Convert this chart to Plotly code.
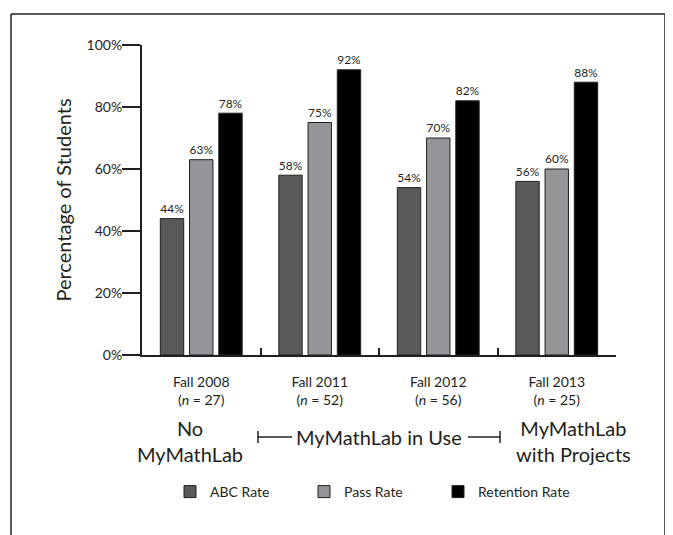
import plotly.graph_objects as go

categories = ["Fall 2008<br>(<i>n</i> = 27)", "Fall 2011<br>(<i>n</i> = 52)",
              "Fall 2012<br>(<i>n</i> = 56)", "Fall 2013<br>(<i>n</i> = 25)"]
abc_rate = [44, 58, 54, 56]
pass_rate = [63, 75, 70, 60]
retention_rate = [78, 92, 82, 88]
series_names = ["ABC Rate", "Pass Rate", "Retention Rate"]
series_colors = ["#58595b", "#939598", "#000000"]
y_ticks = [0, 20, 40, 60, 80, 100]
y_tick_labels = ["0%", "20%", "40%", "60%", "80%", "100%"]

FONT = "Lato, 'Open Sans', sans-serif"
OFF = 8  # default body margin of the page
W, H = 673 - OFF, 535 - OFF
L, R, T, B = 142 - OFF, 616 - OFF, 45 - OFF, 355 - OFF  # plot area in figure px

def px(x):
    return (x - OFF - L) / (R - L)

def py(y):
    return (B - (y - OFF)) / (B - T)

fig = go.Figure()
for name, vals, col in zip(series_names, [abc_rate, pass_rate, retention_rate], series_colors):
    fig.add_trace(go.Bar(
        x=categories, y=vals, name=name,
        marker=dict(color=col, line=dict(color="#231f20", width=1)),
        text=[f"{v}%" for v in vals], textposition="outside",
        textfont=dict(family=FONT, size=14, color="#231f20"),
        cliponaxis=False,
    ))

fig.update_layout(
    width=W, height=H,
    margin=dict(l=L, r=W - R, t=T, b=H - B, autoexpand=False),
    paper_bgcolor="white", plot_bgcolor="white",
    barmode="group", bargap=0.26, bargroupgap=0.2,
    font=dict(family=FONT, color="#231f20"),
    showlegend=True,
    legend=dict(orientation="h", x=px(170), y=py(492), xanchor="left", yanchor="middle",
                font=dict(family=FONT, size=14, color="#231f20"),
                entrywidth=89, entrywidthmode="pixels", itemclick=False),
    xaxis=dict(showline=True, linecolor="#231f20", linewidth=2,
               ticks="inside", tickson="boundaries", ticklen=7, tickwidth=2, tickcolor="#231f20",
               tickfont=dict(family=FONT, size=14, color="#231f20"),
               ticklabelstandoff=13, showgrid=False, range=[-0.5, 3.5]),
    yaxis=dict(range=[0, 100], tickvals=y_ticks, ticktext=y_tick_labels,
               showline=True, linecolor="#231f20", linewidth=2,
               ticks="outside", ticklen=18, tickwidth=2, tickcolor="#231f20",
               tickfont=dict(family=FONT, size=14, color="#231f20"),
               ticklabelstandoff=-3, showgrid=False, zeroline=False,
               title=dict(text="Percentage of Students", font=dict(family=FONT, size=20, color="#231f20"),
                          standoff=10)),
)

# outer frame (open at bottom)
frame = dict(type="line", xref="paper", yref="paper", line=dict(color="#231f20", width=1.5))
fig.add_shape(**frame, x0=px(11), x1=px(11), y0=py(14), y1=py(540))
fig.add_shape(**frame, x0=px(11), x1=px(665), y0=py(14), y1=py(14))
fig.add_shape(**frame, x0=px(665), x1=px(665), y0=py(14), y1=py(540))

# phase bracket
br = dict(type="line", xref="paper", yref="paper", line=dict(color="#231f20", width=1.5))
fig.add_shape(**br, x0=px(258), x1=px(292), y0=py(437), y1=py(437))
fig.add_shape(**br, x0=px(468), x1=px(500), y0=py(437), y1=py(437))
fig.add_shape(**br, x0=px(258), x1=px(258), y0=py(431), y1=py(443))
fig.add_shape(**br, x0=px(500), x1=px(500), y0=py(431), y1=py(443))

ann_font = dict(family=FONT, size=20, color="#231f20")
common = dict(xref="paper", yref="paper", showarrow=False, font=ann_font,
              xanchor="center", yanchor="middle", align="center")
fig.add_annotation(text="No<br>MyMathLab", x=px(190), y=py(441), **common)
fig.add_annotation(text="MyMathLab in Use", x=px(379), y=py(437), **common)
fig.add_annotation(text="MyMathLab<br>with Projects", x=px(573), y=py(441), **common)

fig.write_html("out.html")
